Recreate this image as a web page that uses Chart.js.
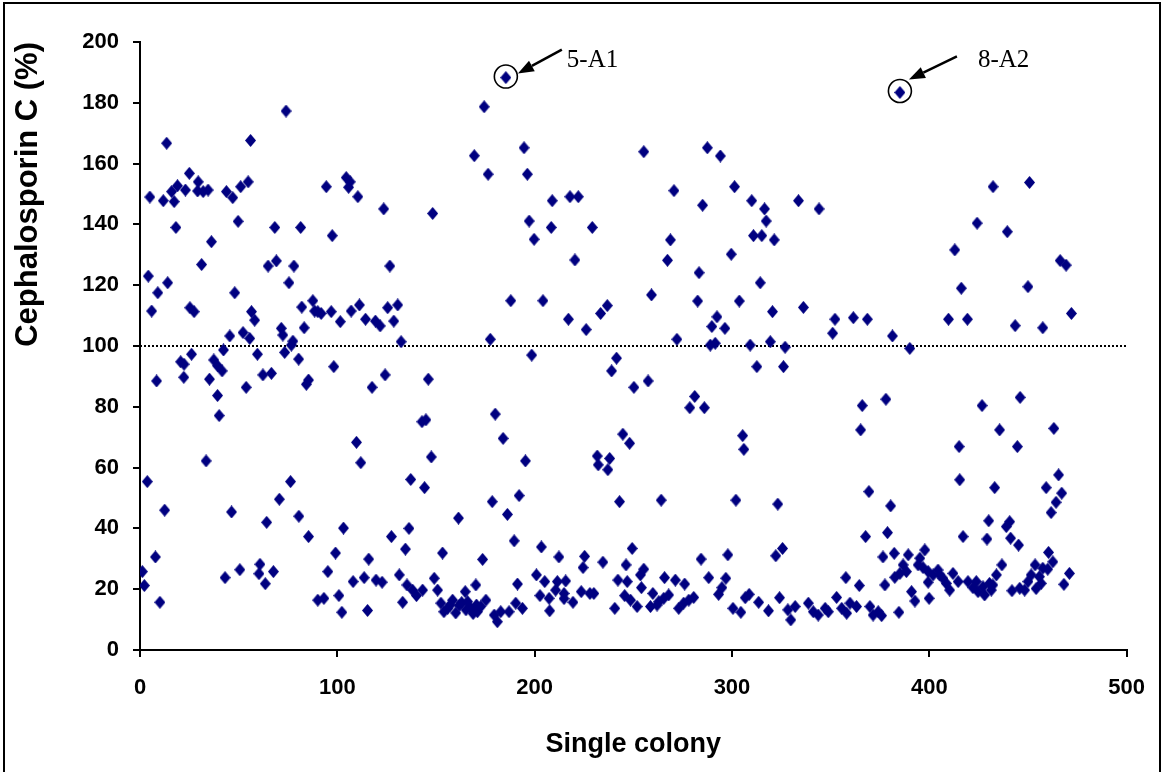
<!DOCTYPE html>
<html>
<head>
<meta charset="utf-8">
<script src="https://cdn.jsdelivr.net/npm/chart.js@4/dist/chart.umd.min.js"></script>
<style>
html,body{margin:0;padding:0;background:#fff;overflow:hidden}
canvas{display:block}
</style>
</head>
<body>
<canvas id="c" width="1163" height="772"></canvas>
<script>
// ---- data (colony index vs Cephalosporin C %) ----
const colonyIndex = [
74,13.5,56,25,5,11.8,16,17.3,19,23,29.5,29.2,32,34.5,43.8,47,51,54.8,18.2,49.7,36.2,68.3,81.4,31.2,64.9,69.1,78,4.2,14,9,5.9,25.3,27.4,48,75.5,82,83.2,56.5,58.1,45.5,52.2,55.6,71.6,72.4,77.5,
26.1,20.6,22.3,37.4,39.3,41.6,42.3,59.5,73.3,80.4,76.7,8.4,22.2,35.2,53.8,62.3,66.6,39.3,40.1,33.5,3.7,76.3,70.6,12.5,46.4,80.5,64.2,85.4,7.8,1.2,2.2,10.1,43.1,50.6,60.8,60.3,67.6,63.5,
94.4,104.5,106.5,105.7,110.4,123.5,148.3,97.4,126.6,87.6,88.5,91.8,90.1,96.9,107,111.2,101.5,114.3,119.3,121.7,125.5,130.6,128.6,132.3,
98.2,85.4,84.3,117.6,124.2,146.1,142.9,144.9,109.7,111.9,147.6,137.2,144.2,161.4,103.1,99.1,95.2,90.1,93.2,100.8,102.3,108,113.6,115.9,115.3,119.6,122.7,127.4,136.3,134.5,153.3,131.4,133.1,135.3,138.1,140.1,143.2,149.1,150.8,152.5,155.9,158.4,161.8,164.8,165.2,
154,157.2,160,163,168.8,170.5,
185.4,174.4,169.4,194.6,176.4,196.3,208.9,217.9,222.1,197.2,208.4,229.2,199.7,220.4,187.9,204.2,217.1,226.1,233.4,236.8,177.5,
198.5,241.5,239,250.3,180,184,195.3,244.7,248.1,231.7,232.2,238,237.1,178.5,192.1,186.2,243,189.6,203.4,212.3,225.3,224.5,234.6,249.4,246.3,173.6,170.2,191.3,200.9,205.1,211.5,215.7,210.6,214.9,214.9,202.7,207.3,207.6,219.4,223.6,228,230,240.6,242.2,246.9,245.6,248.6,166,167.7,171,172.7,175.3,179.5,181.1,182.8,187,190.4,193.8,
255.3,287.5,294.1,270.6,301.3,285.1,310,316.5,317.3,333.7,310.9,315.1,321.4,268.8,267.3,299.6,283.3,314.3,259.2,282.6,303.7,320.5,292.4,289.8,296.4,272.1,289,291.5,309.2,319.4,326.9,
312.6,326.1,257.5,281.1,278.6,286,305.4,306,264.1,302,323.2,284.3,297.9,322.2,325.6,255.3,253.6,254.1,251.9,258.7,259.9,262.9,265.4,267.9,262,265.8,271.3,276,273,275.5,278.1,280.6,288.2,293.2,294.9,296.9,300.5,304.5,306.7,308.7,313.5,318.5,324.1,328.3,329.8,332,
385.1,344.1,412.9,416.2,336.2,352.2,361.5,368.6,351,381.3,409.7,390.1,
366,378,365.2,415.1,415.4,369.4,380.4,367.7,378.8,417.1,376.5,382.2,389.3,395.2,397.7,394.3,396.8,386.7,388.4,382.5,385.1,399.4,401.9,404.4,405.3,406.9,412,414.6,408.6,410.3,399.4,391,392.7,399.9,377.5,384.6,357.7,364.5,353,355.6,358.1,359.8,363.1,369.9,371.5,374.1,375.8,338.7,341.2,343.7,347.2,348.8,
432.3,450.8,424.2,439.5,466.3,469.3,450,419.3,443.5,457.5,472,
426.7,446,435.6,463.1,444.6,433.1,465.5,459.2,467.1,464.2,461.7,430.1,439,440.7,429.2,441.2,445.2,460.4,462.6,436.8,434,471,468.2,453.6,457.5,451.6,455.8,450,448.3,454.1,456.7,460,441.9,445.8,419.6,422.1,423.8,424.7,427.2,428,430.5,432.2,431.4
];
const cephalosporinC = [
177.3,166.7,167.6,156.8,149,147.8,150.8,147.5,152.7,151.3,154,151,150.8,151.3,150.8,148.8,152.4,154,139,141,134.3,139,139,126.8,126.3,128,126.3,123,120.8,117.5,111.5,112.6,111.3,117.5,120.8,112.8,106,111.3,108.5,103.3,104.4,102.5,105.8,103.6,101.6,
97.3,94.8,94,95.4,93.5,91.8,98.7,97.3,97.9,95.7,100.3,88.5,89.7,89.1,86.4,90.5,91,83.7,77.1,62.2,55.4,55.4,49.6,46,45.4,44,42,37.3,30.6,25.8,21.2,15.7,23.8,26.4,28.2,25.1,25.8,21.8,
152.4,155.4,154,152.2,149.1,145.1,143.6,136.3,126.3,114.9,111.5,110.7,111.3,111.3,111.5,113.5,108,108.8,108.2,106.6,112.6,113.5,108.2,101.4,
93.2,88.8,87.4,86.4,90.5,89.1,75.1,75.7,68.3,61.6,63.5,56.1,53.4,43.4,40.1,31.9,25.8,16.4,17,17.9,12.4,22.5,23.8,29.9,13,23,22.3,37.3,40,33.2,31.9,24.7,15.7,21.4,19.7,17.9,19.7,23.6,19.7,15.4,13.7,16.4,14.7,19.2,13.2,
12.6,14.8,12.2,15.6,12,14.8,
188.3,178.7,162.6,165.2,156.5,156.5,147.8,149.1,149.1,141.1,139,139,135.1,128.3,114.9,114.9,108.8,105.4,110.7,113.3,102.2,
97,96,91.8,86.4,77.6,69.6,62.2,71,68,63.8,60.9,63,59.3,48.8,50.8,44.6,48.8,35.9,33.9,30.6,30.8,27.1,28.9,33.4,28,29.8,21.4,21.7,24.7,22.5,22.5,22.7,19.7,18.6,16.9,17.9,17,12.9,15.7,19.2,18.6,18.6,13.7,23,22.5,17.9,16.4,15.9,13.7,12.6,14.3,16.4,11.5,9.3,12.6,12.6,15.4,13.7,
163.9,165.2,162.5,151.1,152.4,146.3,147.8,145.1,141.1,147.8,136.3,136.3,134.9,134.9,128.2,130.2,124.1,120.8,116.8,114.8,114.8,111.3,109.6,106.4,105.8,102.2,100.3,100.9,100.3,101.4,99.6,
93.2,93.2,88.5,83.4,79.7,79.7,70.5,66,49.3,49.3,48,29.9,31.3,31,33.4,26.6,24.7,20.5,14.3,14.3,18.6,15.9,17,18.1,14.8,23.8,23,21.7,13.7,15.4,16.4,17.3,23.8,18.3,20.5,23.6,13.7,12.4,17.2,18.3,15.7,12.9,17.2,13.2,9.9,14.3,
183.4,145.1,131.6,119,112.7,108.8,109.3,108.8,104.2,103.3,108.8,99.2,
80.4,82.5,72.4,66.9,56,52.1,47.4,37.3,38.6,37.3,30.6,31.8,31.3,30.2,32.9,28,27.1,28,25.8,23.9,25.2,25.8,24.7,26.3,24.7,23.6,25.2,22.5,21.9,19.7,22.3,19.2,16.1,17,21.4,12.4,23.8,21.2,17.3,13.7,12.1,15.4,14.3,14.3,11.5,12.6,11.3,15.4,12.6,11.5,13.7,12.6,
152.4,153.8,140.4,137.6,128.1,126.6,119.5,108.8,106.7,106,110.7,
80.4,83.1,72.4,72.9,66.9,53.4,57.6,53.4,51.6,48.6,45.2,42.5,40.6,42.2,36.5,36.8,34.5,32.1,29,28,24.7,25.2,21.6,28,26.9,24.7,24.1,22.5,19.7,20.2,21.9,26.6,19.5,20.3,22.5,20.5,22.5,19.2,20.8,18.1,21.9,21.4,19.7
];
const xTickValues = [0, 100, 200, 300, 400, 500];
const yTickValues = [0, 20, 40, 60, 80, 100, 120, 140, 160, 180, 200];
const thresholdLevel = 100;
const highlightLabels = ['5-A1', '8-A2'];
const highlightX = [185.4, 385.1];
const highlightY = [188.3, 183.4];

// ---- styling ----
const FONT = '"Liberation Sans", Arial, sans-serif';
const annotOffsets = [
  {tailX: 56, tailY: -28, tipX: 12, tipY: -4, textX: 61, textY: -11, cy: -1},
  {tailX: 57, tailY: -36, tipX: 9, tipY: -13, textX: 78, textY: -25, cy: -1.5}
];

const diamond = document.createElement('canvas');
diamond.width = 11; diamond.height = 13;
(function(){
  const d = diamond.getContext('2d');
  d.fillStyle = '#000080';
  d.beginPath();
  d.moveTo(5.5, 0); d.lineTo(11, 6.5); d.lineTo(5.5, 13); d.lineTo(0, 6.5);
  d.closePath(); d.fill();
})();

const points = colonyIndex.map((x, i) => ({x: x, y: cephalosporinC[i]}));

const annotPlugin = {
  id: 'annot',
  afterDatasetsDraw(chart) {
    const ctx = chart.ctx, xs = chart.scales.x, ys = chart.scales.y;
    ctx.save();
    highlightLabels.forEach((lab, i) => {
      const px = xs.getPixelForValue(highlightX[i]);
      const py = ys.getPixelForValue(highlightY[i]);
      const o = annotOffsets[i];
      ctx.strokeStyle = '#000'; ctx.fillStyle = '#000';
      ctx.lineWidth = 1.6;
      ctx.beginPath(); ctx.arc(px, py + o.cy, 11.5, 0, Math.PI * 2); ctx.stroke();
      const tx = px + o.tailX, ty = py + o.tailY, hx = px + o.tipX, hy = py + o.tipY;
      const ang = Math.atan2(hy - ty, hx - tx);
      const hl = 16, hw = 6;
      const bx = hx - hl * Math.cos(ang), by = hy - hl * Math.sin(ang);
      ctx.lineWidth = 2.5;
      ctx.beginPath(); ctx.moveTo(tx, ty); ctx.lineTo(bx, by); ctx.stroke();
      ctx.beginPath();
      ctx.moveTo(hx, hy);
      ctx.lineTo(bx + hw * Math.sin(ang), by - hw * Math.cos(ang));
      ctx.lineTo(bx - hw * Math.sin(ang), by + hw * Math.cos(ang));
      ctx.closePath(); ctx.fill();
      ctx.font = '25px "Liberation Serif", "Times New Roman", serif';
      ctx.textBaseline = 'alphabetic'; ctx.textAlign = 'left';
      ctx.fillText(lab, px + o.textX, py + o.textY);
    });
    ctx.restore();
  },
  afterDraw(chart) {
    const ctx = chart.ctx;
    ctx.save();
    ctx.strokeStyle = '#000'; ctx.lineWidth = 2;
    ctx.beginPath();
    ctx.moveTo(4, 780); ctx.lineTo(4, 3); ctx.lineTo(1160, 3); ctx.lineTo(1160, 780);
    ctx.stroke();
    ctx.restore();
  }
};

const tickFont = {family: FONT, size: 22, weight: 'bold'};
const titleFont = {family: FONT, size: 27, weight: 'bold'};

new Chart(document.getElementById('c'), {
  type: 'scatter',
  data: {
    datasets: [
      {
        label: 'Cephalosporin C',
        data: points,
        pointStyle: diamond,
        pointRadius: 6,
        backgroundColor: '#000080',
        borderColor: '#000080',
        order: 1
      },
      {
        label: 'threshold',
        data: [{x: xTickValues[0], y: thresholdLevel}, {x: xTickValues[xTickValues.length - 1], y: thresholdLevel}],
        showLine: true,
        borderColor: '#000',
        borderWidth: 2,
        borderDash: [2, 2],
        pointRadius: 0,
        order: 2
      }
    ]
  },
  options: {
    responsive: false,
    animation: false,
    events: [],
    layout: {padding: {left: 0, top: 42, right: 34, bottom: 0}},
    plugins: {legend: {display: false}, tooltip: {enabled: false}},
    scales: {
      x: {
        type: 'linear',
        min: xTickValues[0], max: xTickValues[xTickValues.length - 1],
        afterBuildTicks: s => { s.ticks = xTickValues.map(v => ({value: v})); },
        afterFit: s => { s.height = 122; },
        grid: {drawOnChartArea: false, drawTicks: true, tickLength: 7, color: '#000', lineWidth: 2},
        border: {display: true, color: '#000', width: 2},
        ticks: {color: '#000', font: tickFont, padding: 18, maxRotation: 0, autoSkip: false},
        title: {display: true, text: 'Single colony', color: '#000', font: titleFont, padding: {top: 0, bottom: 11}}
      },
      y: {
        type: 'linear',
        min: yTickValues[0], max: yTickValues[yTickValues.length - 1],
        afterBuildTicks: s => { s.ticks = yTickValues.map(v => ({value: v})); },
        afterFit: s => { s.width = 140; },
        grid: {drawOnChartArea: false, drawTicks: true, tickLength: 7, color: '#000', lineWidth: 2},
        border: {display: true, color: '#000', width: 2},
        ticks: {color: '#000', font: tickFont, padding: 14, autoSkip: false},
        title: {display: true, text: 'Cephalosporin C (%)', color: '#000', font: {family: FONT, size: 31, weight: 'bold'}, align: 'end', padding: {top: 10, bottom: 0}}
      }
    }
  },
  plugins: [annotPlugin]
});
</script>
</body>
</html>
